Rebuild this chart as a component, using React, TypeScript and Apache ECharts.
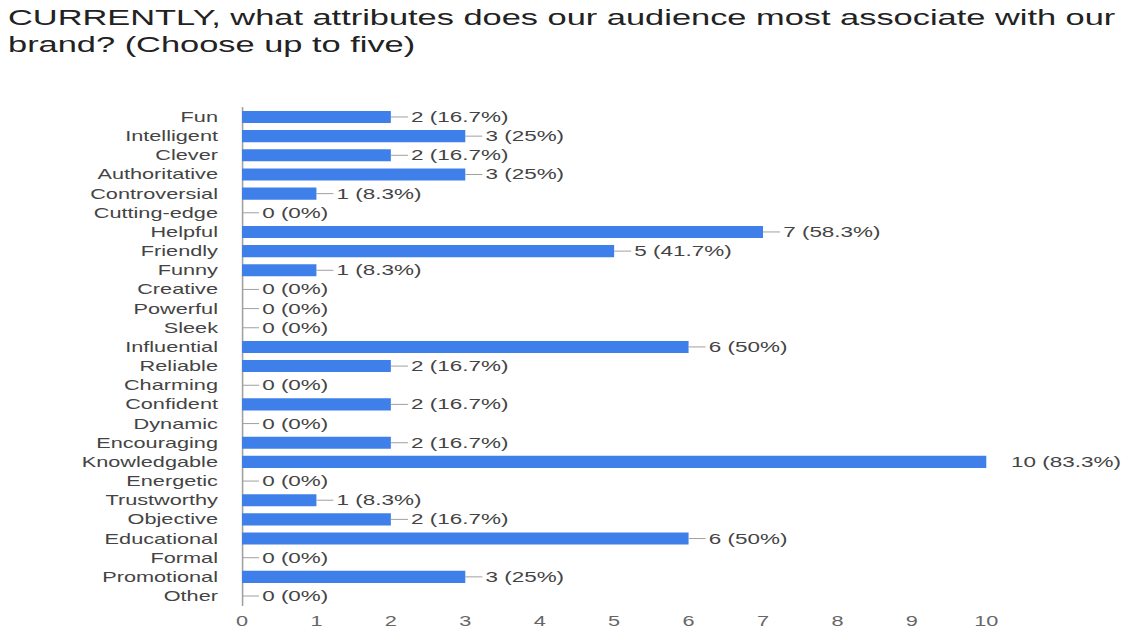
import React, { useEffect, useRef } from "react";
import * as echarts from "echarts";

const titleText =
  "CURRENTLY, what attributes does our audience most associate with our\nbrand? (Choose up to five)";

const categories = [
  "Fun", "Intelligent", "Clever", "Authoritative", "Controversial", "Cutting-edge",
  "Helpful", "Friendly", "Funny", "Creative", "Powerful", "Sleek", "Influential",
  "Reliable", "Charming", "Confident", "Dynamic", "Encouraging", "Knowledgable",
  "Energetic", "Trustworthy", "Objective", "Educational", "Formal", "Promotional", "Other",
];

const counts = [2, 3, 2, 3, 1, 0, 7, 5, 1, 0, 0, 0, 6, 2, 0, 2, 0, 2, 10, 0, 1, 2, 6, 0, 3, 0];

const percents = [
  "16.7%", "25%", "16.7%", "25%", "8.3%", "0%", "58.3%", "41.7%", "8.3%", "0%", "0%", "0%",
  "50%", "16.7%", "0%", "16.7%", "0%", "16.7%", "83.3%", "0%", "8.3%", "16.7%", "50%", "0%",
  "25%", "0%",
];

const xTicks = [0, 10];

const STRETCH = 1.55;
const W = 1126 / STRETCH;

export default function App() {
  const ref = useRef<HTMLDivElement>(null);
  useEffect(() => {
    if (!ref.current) return;
    const chart = echarts.init(ref.current, null, { renderer: "svg" });
    const maxVal = Math.max(...counts);
    const data = counts.map((v, i) => {
      const txt = `${v} (${percents[i]})`;
      if (v === maxVal) {
        return {
          value: v,
          label: { distance: 14, formatter: `{t|${txt}}` },
        };
      }
      return { value: v, label: { formatter: `{l|}{t|${txt}}` } };
    });
    chart.setOption({
      animation: false,
      backgroundColor: "#ffffff",
      textStyle: { fontFamily: "Liberation Sans, Arial, sans-serif" },
      title: {
        text: titleText,
        left: 8 / STRETCH,
        top: 4,
        padding: 0,
        textStyle: {
          fontFamily: "Liberation Sans, Arial, sans-serif",
          fontSize: 22.2,
          lineHeight: 27,
          fontWeight: "normal",
          color: "#222222",
        },
      },
      grid: {
        left: 242 / STRETCH,
        right: W - 987 / STRETCH,
        top: 107.4,
        bottom: 634 - 605.6,
        containLabel: false,
      },
      xAxis: {
        type: "value",
        min: xTicks[0],
        max: xTicks[1],
        interval: 1,
        axisLine: { show: false },
        axisTick: { show: false },
        splitLine: { show: false },
        axisLabel: {
          fontSize: 14,
          color: "#666666",
          margin: 8,
          fontFamily: "Liberation Sans, Arial, sans-serif",
        },
      },
      yAxis: {
        type: "category",
        data: categories,
        inverse: true,
        axisLine: { show: true, lineStyle: { color: "#a0a0a0", width: 1 } },
        axisTick: { show: false },
        splitLine: { show: false },
        axisLabel: {
          fontSize: 14,
          color: "#444444",
          margin: 15.5,
          interval: 0,
          fontFamily: "Liberation Sans, Arial, sans-serif",
        },
      },
      series: [
        {
          type: "bar",
          data,
          barCategoryGap: "37%",
          itemStyle: { color: "#3f7fe9" },
          label: {
            show: true,
            position: "right",
            distance: 0,
            rich: {
              l: { width: 11, height: 1, backgroundColor: "#a0a0a0" },
              t: {
                fontSize: 14.5,
                color: "#444444",
                padding: [0, 0, 0, 2],
                fontFamily: "Liberation Sans, Arial, sans-serif",
              },
            },
          },
        },
      ],
    });
    return () => chart.dispose();
  }, []);
  return (
    <div
      ref={ref}
      style={{
        position: "absolute",
        left: 0,
        top: 0,
        width: W,
        height: 634,
        transform: `scaleX(${STRETCH})`,
        transformOrigin: "0 0",
      }}
    />
  );
}
